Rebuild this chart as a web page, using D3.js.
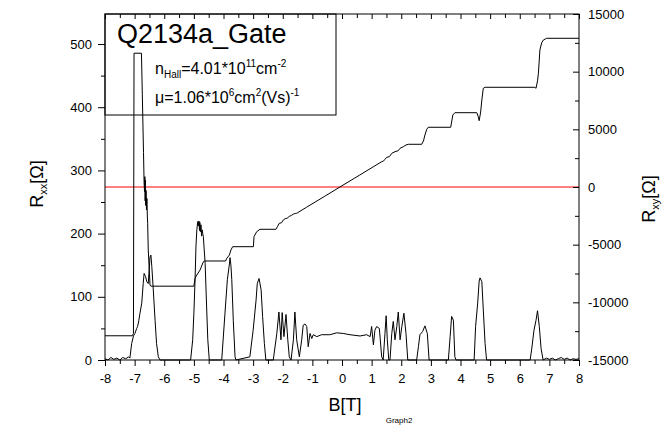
<!DOCTYPE html>
<html>
<head>
<meta charset="utf-8">
<script src="https://cdn.jsdelivr.net/npm/d3@7"></script>
<style>
body { margin: 0; background: #fff; }
text { font-family: Arial, "Liberation Sans", sans-serif; fill: #000; }
</style>
</head>
<body>
<div id="chart-area"></div>
<script>
// Rxx (left axis)
const bXX = [-8, -7.9, -7.8, -7.7, -7.6, -7.5, -7.4, -7.3, -7.2, -7.16,
	-7.1, -7.04, -6.99, -6.93, -6.9, -6.86, -6.82, -6.76, -6.71, -6.68, -6.63, -6.59, -6.54, -6.48, -6.45, -6.42, -6.37, -6.31, -6.26, -6.2, -6.14,
	-5.6, -5.11, -5.04, -5.0, -4.96, -4.93, -4.9, -4.87, -4.85, -4.83, -4.81, -4.8, -4.78, -4.76, -4.74, -4.72, -4.7, -4.68, -4.62, -4.57, -4.53, -4.48,
	-4.06, -3.95, -3.87, -3.8, -3.78, -3.75, -3.72, -3.67, -3.61, -3.58,
	-3.11, -3.0, -2.9, -2.86, -2.8, -2.73, -2.68, -2.62, -2.57,
	-2.32, -2.2, -2.13, -2.06, -2.02, -1.96, -1.89, -1.83, -1.78, -1.72, -1.64, -1.59, -1.53, -1.44, -1.36, -1.31, -1.25, -1.19, -1.14, -1.08, -1.02, -0.97,
	-0.85, -0.69, -0.41, -0.18, 0.04, 0.27, 0.61, 0.83, 0.95, 1.0, 1.06, 1.11, 1.17, 1.26, 1.34, 1.39, 1.45, 1.49, 1.53, 1.58, 1.62,
	1.68, 1.73, 1.79, 1.85, 1.9, 1.96, 2.02, 2.09, 2.16, 2.22, 2.52, 2.58, 2.63, 2.72, 2.8, 2.88, 2.94,
	3.59, 3.65, 3.7, 3.76, 3.81, 3.85, 4.46, 4.51, 4.58, 4.63, 4.66, 4.72, 4.77, 4.83, 4.88,
	6.35, 6.4, 6.48, 6.55, 6.6, 6.66, 6.72, 6.79, 6.9, 7.0, 7.1, 7.2, 7.3, 7.4, 7.5, 7.6, 7.7, 7.8, 7.9, 8];
const rXX = [2, 0, 4, 1, 3, 0, 4, 2, 5, 3,
	26, 38, 42, 50, 53, 62, 74, 90, 121, 137, 132, 124, 121, 163, 166, 148, 111, 63, 26, 5, 0,
	0, 0, 32, 74, 127, 179, 206, 219, 212, 220, 205, 218, 203, 214, 196, 206, 200, 195, 153, 84, 32, 0,
	0, 74, 127, 152, 162, 150, 127, 63, 5, 0,
	5, 47, 95, 121, 129, 111, 69, 26, 0,
	0, 42, 76, 32, 75, 37, 72, 32, 5, 0, 32, 76, 32, 5, 32, 55, 57, 53, 21, 42, 34, 40,
	37, 40, 40, 43, 42, 40, 38, 40, 37, 53, 24, 47, 53, 50, 5, 0, 42, 70, 32, 0, 0,
	42, 61, 32, 53, 76, 32, 53, 74, 42, 0, 0, 21, 40, 45, 54, 42, 0,
	0, 37, 69, 63, 5, 0, 0, 53, 90, 125, 130, 124, 79, 26, 0,
	0, 16, 47, 63, 78, 53, 18, 0, 3, 1, 3, 0, 2, 4, 1, 3, 0, 2, 1, 2];

// Rxy (right axis)
const bXY = [-8, -7.08, -7.04, -7.02, -6.77, -6.74, -6.7, -6.68, -6.665, -6.655, -6.645, -6.635, -6.625, -6.615, -6.6, -6.585, -6.57, -6.56, -6.54, -6.5, -6.48, -6.45,
	-5.0, -4.96, -4.9, -4.79, -4.68, -4.64, -3.93, -3.89, -3.8, -3.75, -3.69, -2.99, -2.97, -2.88, -2.77, -2.23,
	-2.17, -2.12, -2.04, -1.98, -1.92, -1.85, -1.78, -1.7, -1.64, -1.58, -1.53, -1.2, -0.6, 0, 0.6, 1.28,
	1.34, 1.4, 1.45, 1.51, 1.6, 1.68, 1.79, 1.9, 1.96, 2.07, 2.16, 2.24, 2.69, 2.75, 2.8, 2.86, 2.91, 3.67, 3.74, 3.81,
	4.55, 4.6, 4.63, 4.68, 4.72, 4.77, 4.83, 6.51, 6.55, 6.6, 6.63, 6.68, 6.74, 6.8, 6.91, 8];
const rXY = [-12900, -12900, -12700, 11600, 11600, 8000, 3000, 350, -400, 900, -1200, 600, -1600, -300, -2000, -1000, -2600, -3150, -5460, -7480, -8500, -8600,
	-8600, -7916, -7630, -7196, -6477, -6416, -6416, -6182, -5896, -5462, -5176, -5176, -4309, -3875, -3667, -3667,
	-3400, -3150, -3100, -2850, -2750, -2700, -2550, -2450, -2350, -2300, -2280, -1760, -830, 110, 1040, 2100,
	2194, 2250, 2402, 2576, 2628, 2922, 3062, 3148, 3356, 3495, 3642, 3703, 3703, 4000, 4511, 5000, 5178, 5178, 6243, 6443,
	6443, 6100, 5749, 6500, 7544, 8559, 8646, 8646, 8559, 9200, 9860, 11880, 12500, 12750, 12894, 12894];

const xTicks = d3.range(-8, 9, 1);
const xMinor = d3.range(-7.5, 8, 1);
const xxTicks = [0, 100, 200, 300, 400, 500];
const xxMinor = [50, 150, 250, 350, 450];
const xyTicks = [-15000, -10000, -5000, 0, 5000, 10000, 15000];
const xyMinor = [-12500, -7500, -2500, 2500, 7500, 12500];

const margin = { left: 105, right: 85, top: 14, bottom: 66 };
const width = 664 - margin.left - margin.right;
const height = 426 - margin.top - margin.bottom;

const svg = d3.select("#chart-area").append("svg")
	.attr("width", 664)
	.attr("height", 426);

const g = svg.append("g")
	.attr("transform", `translate(${margin.left},${margin.top})`);

const x = d3.scaleLinear().domain([-8, 8]).range([0, width]);
const yL = d3.scaleLinear().domain([0, 547.5]).range([height, 0]);
const yR = d3.scaleLinear().domain([-15000, 15000]).range([height, 0]);

// plain hyphen for negatives, like the original
const plain = d => String(d);

// red zero line of Rxy
g.append("line")
	.attr("x1", 0).attr("x2", width)
	.attr("y1", yR(0)).attr("y2", yR(0))
	.attr("stroke", "#f00")
	.attr("stroke-width", 1);

const lineXX = d3.line().x((d, i) => x(bXX[i])).y(d => yL(d));
const lineXY = d3.line().x((d, i) => x(bXY[i])).y(d => yR(d));

g.append("path")
	.attr("d", lineXY(rXY))
	.attr("fill", "none")
	.attr("stroke", "#000")
	.attr("stroke-width", 1);

g.append("path")
	.attr("d", lineXX(rXX))
	.attr("fill", "none")
	.attr("stroke", "#000")
	.attr("stroke-width", 1);

// axes
function styleAxis(sel) {
	sel.select(".domain").remove();
	sel.selectAll("text").style("font-size", "13px").style("font-family", "Arial, 'Liberation Sans', sans-serif");
}

g.append("g")
	.attr("transform", `translate(0,${height})`)
	.call(d3.axisBottom(x).tickValues(xTicks).tickSize(6).tickPadding(8).tickFormat(plain))
	.call(styleAxis);
g.append("g")
	.attr("transform", `translate(0,${height})`)
	.call(d3.axisBottom(x).tickValues(xMinor).tickSize(4).tickFormat(""))
	.call(styleAxis);

g.append("g")
	.call(d3.axisTop(x).tickValues(xTicks).tickSize(-5).tickFormat(""))
	.call(styleAxis);
g.append("g")
	.call(d3.axisTop(x).tickValues(xMinor).tickSize(-4).tickFormat(""))
	.call(styleAxis);

g.append("g")
	.call(d3.axisLeft(yL).tickValues(xxTicks).tickSize(7).tickPadding(6).tickFormat(plain))
	.call(styleAxis);
g.append("g")
	.call(d3.axisLeft(yL).tickValues(xxMinor).tickSize(4).tickFormat(""))
	.call(styleAxis);

g.append("g")
	.attr("transform", `translate(${width},0)`)
	.call(d3.axisRight(yR).tickValues(xyTicks).tickSize(-6).tickPadding(9).tickFormat(plain))
	.call(styleAxis);
g.append("g")
	.attr("transform", `translate(${width},0)`)
	.call(d3.axisRight(yR).tickValues(xyMinor).tickSize(-4).tickFormat(""))
	.call(styleAxis);

// frame
g.append("rect")
	.attr("width", width).attr("height", height)
	.attr("fill", "none").attr("stroke", "#000").attr("stroke-width", 1);

// label box
g.append("rect")
	.attr("x", 0).attr("y", 0)
	.attr("width", 231).attr("height", 101)
	.attr("fill", "none").attr("stroke", "#000").attr("stroke-width", 1);

svg.append("text")
	.attr("x", 117).attr("y", 43)
	.style("font-size", "27px")
	.text("Q2134a_Gate");

const t1 = svg.append("text").attr("x", 155).attr("y", 74).style("font-size", "16px");
t1.append("tspan").text("n");
t1.append("tspan").attr("dy", 4).style("font-size", "10px").text("Hall");
t1.append("tspan").attr("dy", -4).text("=4.01*10");
t1.append("tspan").attr("dy", -7).style("font-size", "10px").text("11");
t1.append("tspan").attr("dy", 7).text("cm");
t1.append("tspan").attr("dy", -7).style("font-size", "10px").text("-2");

const t2 = svg.append("text").attr("x", 155).attr("y", 103).style("font-size", "16px");
t2.append("tspan").text("μ=1.06*10");
t2.append("tspan").attr("dy", -7).style("font-size", "10px").text("6");
t2.append("tspan").attr("dy", 7).text("cm");
t2.append("tspan").attr("dy", -7).style("font-size", "10px").text("2");
t2.append("tspan").attr("dy", 7).text("(Vs)");
t2.append("tspan").attr("dy", -7).style("font-size", "10px").text("-1");

// axis titles
const yl = svg.append("text")
	.attr("transform", "translate(43,184) rotate(-90)")
	.attr("text-anchor", "middle")
	.style("font-size", "18px");
yl.append("tspan").text("R");
yl.append("tspan").attr("dy", 4).style("font-size", "11px").text("xx");
yl.append("tspan").attr("dy", -4).text("[Ω]");

const yr = svg.append("text")
	.attr("transform", "translate(655,199) rotate(-90)")
	.attr("text-anchor", "middle")
	.style("font-size", "18px");
yr.append("tspan").text("R");
yr.append("tspan").attr("dy", 4).style("font-size", "11px").text("xy");
yr.append("tspan").attr("dy", -4).text("[Ω]");

svg.append("text")
	.attr("x", 345).attr("y", 411)
	.attr("text-anchor", "middle")
	.style("font-size", "18px")
	.text("B[T]");

svg.append("text")
	.attr("x", 399).attr("y", 423)
	.attr("text-anchor", "middle")
	.style("font-size", "8px")
	.text("Graph2");
</script>
</body>
</html>
